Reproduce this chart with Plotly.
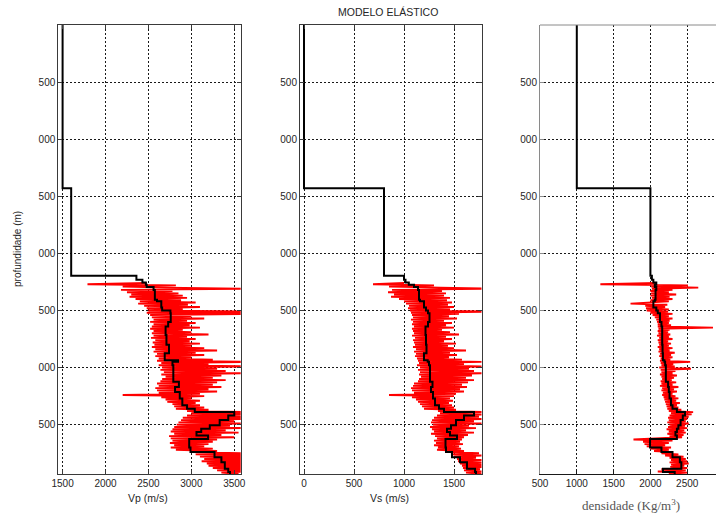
import plotly.graph_objects as go

# ---- blocked elastic model (layer tops in m) ----
layer_tops = [0, 1430, 2195, 2230, 2255, 2275, 2295, 2320, 2405, 2420, 2475, 2500, 2525,
              2600, 2640, 2715, 2800, 2875, 2935, 2950, 2980, 3125, 3170, 3215, 3270,
              3330, 3360, 3390, 3420, 3460, 3505, 3535, 3565, 3595, 3625, 3700, 3740,
              3785, 3830, 3885, 3915]
layer_bottom = 3932
vp_layers = [1500, 1600, 2360, 2430, 2470, 2480, 2560, 2575, 2600, 2650, 2660, 2756, 2760,
             2730, 2700, 2710, 2740, 2690, 2845, 2780, 2790, 2855, 2810, 2865, 2895,
             2950, 3040, 3500, 3430, 3330, 3215, 3115, 3060, 3195, 2975, 2990, 3270,
             3350, 3390, 3430, 3450]
vs_layers = [0, 800, 1000, 1015, 1048, 1100, 1140, 1150, 1160, 1200, 1220, 1240, 1255,
             1240, 1215, 1220, 1225, 1200, 1237, 1250, 1260, 1285, 1270, 1290, 1310,
             1350, 1400, 1700, 1600, 1520, 1470, 1430, 1460, 1530, 1415, 1420, 1480,
             1560, 1630, 1710, 1720]
rho_layers = [1000, 2000, 2020, 2040, 2080, 2060, 2080, 2070, 2060, 2040, 2080, 2100, 2130,
              2150, 2160, 2160, 2165, 2170, 2190, 2200, 2210, 2240, 2250, 2260, 2280,
              2300, 2360, 2470, 2440, 2410, 2380, 2360, 2340, 2360, 1995, 2150, 2300,
              2400, 2420, 2170, 2330]

# ---- well logs, sampled every 10 m from 2260 m ----
log_top = 2260
log_step = 10
vp_log = [
    2480, 1790, 2820, 2200,
    2700, 3700, 2180, 2780, 2250, 2850, 2300, 2900, 2280, 2950,
    2350, 2880, 2400, 3050, 2380, 2960, 2450, 3100, 2480, 2900,
    2500, 3700, 2480, 3700, 2520, 3000, 2540, 3150, 2560, 2950,
    2520, 3050, 2560, 2980, 2540, 3100, 2520, 2900, 2560, 3000,
    2540, 3200, 2560, 2950, 2530, 3050, 2580, 2980, 2550, 3100,
    2570, 3000, 2540, 3150, 2580, 3300, 2560, 3050, 2600, 3150,
    2580, 3000, 2620, 3250, 2600, 3700, 2650, 3200, 2620, 3700,
    2660, 3300, 2640, 3400, 2680, 3700, 2650, 3350, 2700, 3250,
    2660, 3400, 2640, 3300, 2600, 3250, 2620, 3350, 2580, 3200,
    2600, 3300, 2620, 3100, 2200, 3150, 2650, 3000, 2700, 3100,
    2720, 3050, 2780, 3100, 2800, 3150, 2820, 3200, 2950, 3700,
    3000, 3700, 2950, 3600, 2900, 3700, 2880, 3500, 2850, 3650,
    2830, 3450, 2800, 3600, 2780, 3400, 2760, 3550, 2800, 3350,
    2740, 3500, 2760, 3300, 2780, 3250, 2750, 3200, 2800, 3150,
    2760, 3250, 2820, 3300, 3000, 3650, 3050, 3700, 3100, 3600,
    3150, 3700, 3120, 3700, 3180, 3650, 3200, 3700, 3250, 3600,
    3300, 3700, 3350, 3550,
]
vs_log = [
    1000, 690, 1300, 850,
    1360, 1900, 880, 1380, 840, 1420, 900, 1400, 870, 1460,
    950, 1430, 1000, 1480, 1020, 1440, 1050, 1500, 1040, 1460,
    1060, 1900, 1070, 1550, 1080, 1450, 1090, 1530, 1070, 1400,
    1090, 1480, 1080, 1420, 1100, 1500, 1080, 1380, 1090, 1460,
    1100, 1550, 1080, 1420, 1110, 1480, 1090, 1400, 1100, 1520,
    1110, 1440, 1090, 1500, 1120, 1620, 1100, 1460, 1120, 1530,
    1110, 1450, 1130, 1580, 1140, 1800, 1150, 1600, 1130, 1800,
    1160, 1650, 1140, 1700, 1160, 1800, 1150, 1680, 1170, 1620,
    1150, 1700, 1140, 1640, 1100, 1580, 1090, 1630, 1070, 1560,
    1080, 1600, 1100, 1520, 850, 1500, 1080, 1460, 1120, 1490,
    1140, 1450, 1160, 1480, 1180, 1500, 1200, 1520, 1340, 1800,
    1360, 1800, 1330, 1750, 1300, 1800, 1280, 1700, 1270, 1780,
    1290, 1650, 1260, 1720, 1280, 1620, 1300, 1700, 1270, 1640,
    1310, 1600, 1330, 1580, 1300, 1560, 1320, 1590, 1300, 1550,
    1340, 1570, 1330, 1600, 1450, 1750, 1470, 1800, 1500, 1720,
    1530, 1800, 1540, 1780, 1560, 1800, 1580, 1800, 1590, 1760,
    1600, 1800, 1620, 1780,
]
rho_log = [
    2080, 1320, 2510, 2010,
    2650, 2020, 2300, 2000, 2250, 2010, 2350, 2000, 2260, 2020,
    2300, 2000, 2250, 1960, 1730, 2230, 1930, 2200, 1940, 2250,
    1950, 2240, 2000, 2300, 2030, 2250, 2060, 2300, 2080, 2260,
    2090, 2250, 2100, 2280, 2100, 2850, 2110, 2260, 2100, 2240,
    2110, 2270, 2090, 2250, 2120, 2300, 2100, 2240, 2110, 2280,
    2120, 2250, 2100, 2300, 2120, 2260, 2110, 2330, 2130, 2280,
    2120, 2300, 2140, 2270, 2130, 2540, 2140, 2310, 2150, 2330,
    2120, 2550, 2140, 2340, 2150, 2300, 2130, 2360, 2150, 2320,
    2160, 2290, 2140, 2350, 2150, 2300, 2130, 2380, 2160, 2320,
    2150, 2360, 2170, 2300, 2160, 2340, 2180, 2380, 2190, 2350,
    2200, 2400, 2210, 2360, 2220, 2380, 2230, 2420, 2250, 2580,
    2280, 2560, 2260, 2520, 2240, 2500, 2250, 2480, 2230, 2520,
    2260, 2470, 2240, 2500, 2220, 2460, 2250, 2480, 2230, 2450,
    2260, 2430, 2050, 1770, 2300, 1900, 2250, 1920, 2200, 1950,
    2280, 2000, 2250, 2050, 2300, 2150, 2380, 2200, 2450, 2260,
    2480, 2280, 2500, 2260, 2520, 2280, 2460, 2270, 2500, 2150,
    2480, 2100, 2500, 2250,
]
log_depth = [log_top + log_step * i for i in range(len(vp_log))]

# ---- axes ----
depth_ticks = [500, 1000, 1500, 2000, 2500, 3000, 3500]
depth_ticktext = ["500", "000", "500", "000", "500", "000", "500"]
depth_range = [layer_bottom, 0]
vp_ticks = [1500, 2000, 2500, 3000, 3500]
vs_ticks = [0, 500, 1000, 1500]
rho_ticks = [500, 1000, 1500, 2000, 2500]
vp_range = [1450, 3575]
vs_range = [-40, 1775]
rho_range = [500, 2891]

W, H = 716, 518
tick_font = dict(family="Liberation Sans, Arial, sans-serif", size=10, color="#262626")
frame = "#3a3a3a"
grid = dict(showgrid=True, gridcolor="#1a1a1a", gridwidth=1, griddash="2px,2px")

fig = go.Figure()

panels = [
    ("x", "y", vp_log, vp_layers),
    ("x2", "y2", vs_log, vs_layers),
    ("x3", "y3", rho_log, rho_layers),
]
for xa, ya, log_vals, layer_vals in panels:
    fig.add_trace(go.Scatter(
        x=log_vals, y=log_depth, xaxis=xa, yaxis=ya, mode="lines",
        line=dict(color="#ff0000", width=1.9), showlegend=False, hoverinfo="skip"))
    fig.add_trace(go.Scatter(
        x=layer_vals + [layer_vals[-1]], y=layer_tops + [layer_bottom],
        xaxis=xa, yaxis=ya, mode="lines", line_shape="vh",
        line=dict(color="#000000", width=2), showlegend=False, hoverinfo="skip"))

ydom = [44 / H, 493 / H]


def xaxis(dom, rng, ticks, anchor, color=frame, mirror="ticks"):
    return dict(domain=dom, range=rng, tickvals=ticks, anchor=anchor, automargin=False,
                showline=True, linecolor=color, linewidth=1, mirror=mirror,
                ticks="inside", ticklen=4, tickcolor=color, tickfont=tick_font,
                zeroline=False, **grid)


def yaxis(anchor, color=frame, mirror="ticks"):
    return dict(domain=ydom, range=depth_range, tickvals=depth_ticks,
                ticktext=depth_ticktext, anchor=anchor, automargin=False,
                showline=True, linecolor=color, linewidth=1, mirror=mirror,
                ticks="inside", ticklen=4, tickcolor=color, tickfont=tick_font,
                zeroline=False, **grid)


fig.update_layout(
    width=W, height=H,
    margin=dict(l=0, r=0, t=0, b=0, autoexpand=False),
    paper_bgcolor="white", plot_bgcolor="white",
    xaxis=xaxis([58.3 / W, 240.7 / W], vp_range, vp_ticks, "y"),
    xaxis2=xaxis([300 / W, 481.5 / W], vs_range, vs_ticks, "y2"),
    xaxis3=xaxis([540 / W, 1.0], rho_range, rho_ticks, "y3", color="#1a1a1a", mirror=False),
    yaxis=yaxis("x"),
    yaxis2=yaxis("x2"),
    yaxis3=yaxis("x3", color="#8a8a8a", mirror=False),
)

# top border of the density panel
fig.add_shape(type="line", xref="x3 domain", yref="y3 domain", x0=0, x1=1, y0=1, y1=1,
              line=dict(color="#8a8a8a", width=1))

label_font = dict(family="Liberation Sans, Arial, sans-serif", size=10.5, color="#262626")
fig.add_annotation(text="MODELO ELÁSTICO", x=388 / W, y=1 - 12 / H, xref="paper", yref="paper",
                   showarrow=False, font=label_font, xanchor="center", yanchor="middle")
fig.add_annotation(text="Vp (m/s)", x=148 / W, y=1 - 498 / H, xref="paper", yref="paper",
                   showarrow=False, font=label_font, xanchor="center", yanchor="middle")
fig.add_annotation(text="Vs (m/s)", x=389 / W, y=1 - 498 / H, xref="paper", yref="paper",
                   showarrow=False, font=label_font, xanchor="center", yanchor="middle")
fig.add_annotation(text="densidade (Kg/m<sup>3</sup>)", x=631 / W, y=1 - 505 / H,
                   xref="paper", yref="paper", showarrow=False,
                   font=dict(family="Liberation Serif, Times New Roman, serif", size=13, color="#555555"),
                   xanchor="center", yanchor="middle")
fig.add_annotation(text="profundidade (m)", x=17 / W, y=1 - 249 / H, xref="paper", yref="paper",
                   showarrow=False, font=dict(family="Liberation Sans, Arial, sans-serif", size=10, color="#262626"),
                   textangle=-90, xanchor="center", yanchor="middle")

fig.write_html("out.html")
